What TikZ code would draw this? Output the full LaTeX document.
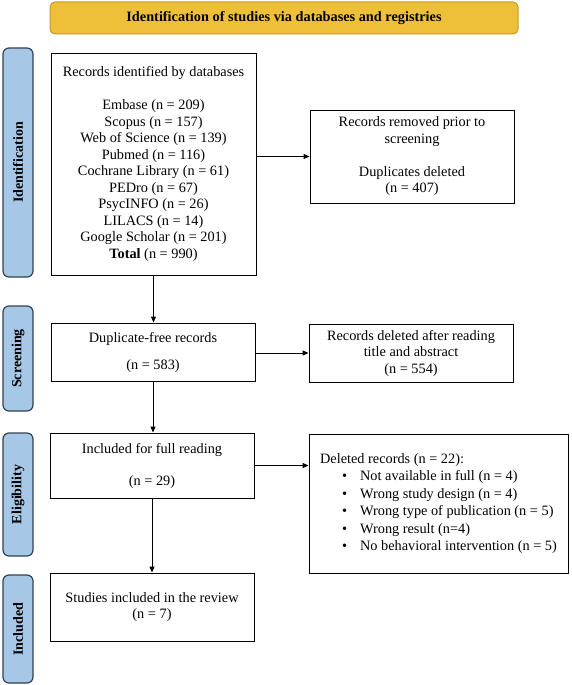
\documentclass[tikz,border=0pt]{standalone}
\usepackage{fontspec}
\setmainfont{Liberation Serif}
\usetikzlibrary{arrows.meta}
\definecolor{gold}{HTML}{EEC03A}
\definecolor{goldline}{HTML}{C99A1E}
\definecolor{lblue}{HTML}{A7C7E7}
\definecolor{lblueline}{HTML}{2F4256}
\begin{document}
\begin{tikzpicture}[x=1pt,y=-1pt,
  box/.style={draw=black, line width=0.9pt, inner sep=0pt, align=center,
    font=\fontsize{14.3}{16.5}\selectfont},
  stage/.style={draw=lblueline, fill=lblue, line width=1.2pt, rounded corners=6pt,
    rotate=90, minimum height=30pt, inner sep=0pt, font=\bfseries\fontsize{14}{16}\selectfont},
  arr/.style={-{Triangle[length=6pt,width=5pt]}, line width=0.9pt}]
\useasboundingbox (0,0) rectangle (571,685);

\node[draw=goldline, fill=gold, rounded corners=5pt, line width=1pt,
  minimum width=468pt, minimum height=32pt,
  font=\bfseries\fontsize{14.3}{16}\selectfont] (ban) at (284,18)
  {Identification of studies via databases and registries};

\node[stage, minimum width=229pt] (s1) at (18,162.5) {Identification};
\node[stage, minimum width=105pt] (s2) at (18,358.5) {Screening};
\node[stage, minimum width=123pt] (s3) at (18,494.5) {Eligibility};
\node[stage, minimum width=108pt] (s4) at (18,629) {Included};

\node[box, minimum width=205pt, minimum height=222pt] (b1) at (153.5,164)
  {Records identified by databases\\[16.5pt]
   Embase (n = 209)\\ Scopus (n = 157)\\ Web of Science (n = 139)\\
   Pubmed (n = 116)\\ Cochrane Library (n = 61)\\ PEDro (n = 67)\\
   PsycINFO (n = 26)\\ LILACS (n = 14)\\ Google Scholar (n = 201)\\
   \textbf{Total} (n = 990)};

\node[box, minimum width=204pt, minimum height=93pt] (b2) at (412,156.5)
  {Records removed prior to\\ screening\\[16.5pt] Duplicates deleted\\ (n = 407)};

\node[box, minimum width=204pt, minimum height=58pt] (b3) at (153,352)
  {Duplicate-free records\\[10.5pt](n = 583)};

\node[box, minimum width=204pt, minimum height=58pt] (b4) at (411,353)
  {Records deleted after reading\\ title and abstract\\ (n = 554)};

\node[box, minimum width=204pt, minimum height=65pt] (b5) at (152,465.5)
  {Included for full reading\\[15.5pt](n = 29)};

\node[box, align=left, minimum width=259pt, minimum height=139pt,
  font=\fontsize{14.3}{17.4}\selectfont] (b6) at (438.5,503.5)
  {Deleted records (n = 22):\\
   \hspace*{22pt}\textbullet\hspace*{13pt}Not available in full (n = 4)\\
   \hspace*{22pt}\textbullet\hspace*{13pt}Wrong study design (n = 4)\\
   \hspace*{22pt}\textbullet\hspace*{13pt}Wrong type of publication (n = 5)\\
   \hspace*{22pt}\textbullet\hspace*{13pt}Wrong result (n=4)\\
   \hspace*{22pt}\textbullet\hspace*{13pt}No behavioral intervention (n = 5)};

\node[box, minimum width=204pt, minimum height=68pt] (b7) at (152,607)
  {Studies included in the review\\ (n = 7)};

\draw[arr] (b2.west -| b1.east) -- (b2.west);
\draw[arr] (b4.west -| b3.east) -- (b4.west);
\draw[arr] (b5.east) -- (b5.east -| b6.west);
\draw[arr] (b1.south) -- (b1.south |- b3.north);
\draw[arr] (b3.south) -- (b3.south |- b5.north);
\draw[arr] (b5.south) -- (b5.south |- b7.north);
\end{tikzpicture}
\end{document}
